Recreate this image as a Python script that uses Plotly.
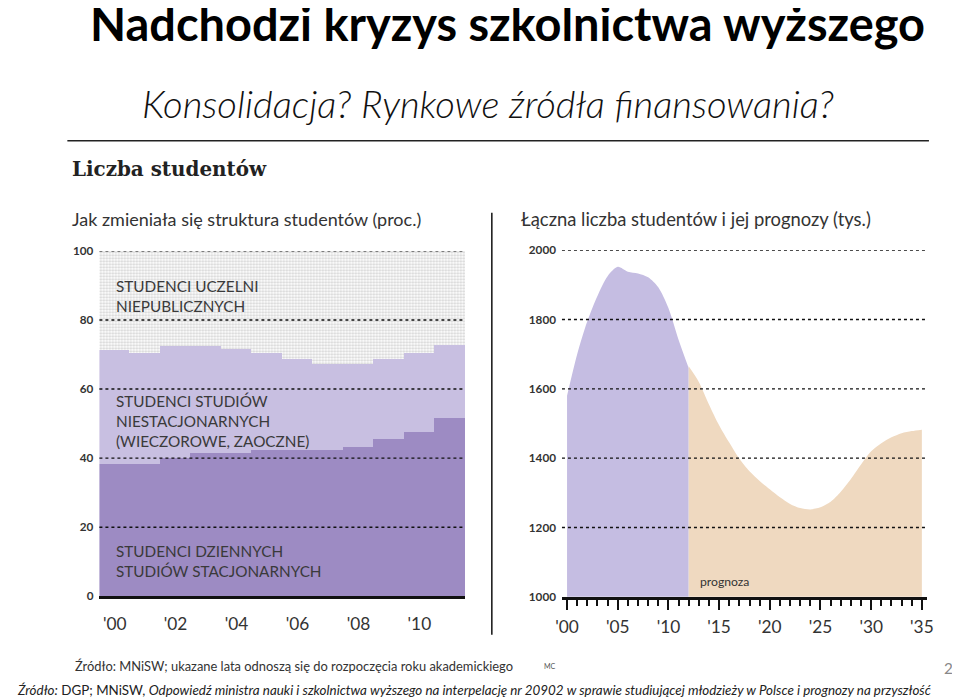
import plotly.graph_objects as go

# ---------------- data ----------------
years_left = [2000, 2001, 2002, 2003, 2004, 2005, 2006, 2007, 2008, 2009, 2010, 2011]
stacjonarne = [38.3, 38.3, 40.0, 41.4, 41.4, 42.5, 42.5, 42.5, 43.2, 45.5, 47.5, 51.5]
niestacjonarne = [33.0, 32.1, 32.6, 31.2, 30.3, 27.9, 26.3, 24.9, 24.2, 23.3, 22.9, 21.2]
niepubliczne = [28.7, 29.6, 27.4, 27.4, 28.3, 29.6, 31.2, 32.6, 32.6, 31.2, 29.6, 27.3]
left_xticks = [2000, 2002, 2004, 2006, 2008, 2010]
left_xlabels = ["'00", "'02", "'04", "'06", "'08", "'10"]
left_yticks = [0, 20, 40, 60, 80, 100]

years_hist = [2000, 2001, 2002, 2003, 2004, 2005, 2006, 2007, 2008, 2009, 2010, 2011, 2012]
students_hist = [1580, 1700, 1795, 1868, 1925, 1952, 1938, 1933, 1922, 1893, 1833, 1742, 1660]
years_fc = [2012, 2013, 2014, 2015, 2016, 2017, 2018, 2019, 2020, 2021, 2022, 2023,
            2024, 2025, 2026, 2027, 2028, 2029, 2030, 2031, 2032, 2033, 2034, 2035]
students_fc = [1665, 1620, 1555, 1495, 1445, 1398, 1362, 1334, 1310, 1287, 1268, 1256,
               1252, 1258, 1274, 1303, 1340, 1382, 1420, 1443, 1460, 1472, 1478, 1482]
right_xticks = [2000, 2005, 2010, 2015, 2020, 2025, 2030, 2035]
right_xlabels = ["'00", "'05", "'10", "'15", "'20", "'25", "'30", "'35"]
right_yticks = [1000, 1200, 1400, 1600, 1800, 2000]

# ---------------- layout helpers ----------------
# measured: the photographed picture shows the figure slightly shrunk and shifted,
# so target picture pixels are mapped back to figure pixels here
W, H = 960, 697
SX, SY = 976 / 960, 713 / 697
def px(x):
    return (x * SX - 16) / W
def py(y):
    return 1 - (y * SY - 16) / H
def fs(s):
    return round(s * 1.02, 1)

FONT = "Lato"
DARK = "#9d8bc3"
LIGHT = "#c8bfe1"
RPURPLE = "#c5bde2"
PEACH = "#efd9c0"
TXT = "#3a3a3a"

fig = go.Figure()

# left chart: stacked step areas as full-width bars
fig.add_trace(go.Bar(x=years_left, y=stacjonarne, width=1, marker=dict(color=DARK, line=dict(width=0)),
                     xaxis="x", yaxis="y", hoverinfo="y"))
fig.add_trace(go.Bar(x=years_left, y=niestacjonarne, width=1, marker=dict(color=LIGHT, line=dict(width=0)),
                     xaxis="x", yaxis="y", hoverinfo="y"))
fig.add_trace(go.Bar(x=years_left, y=niepubliczne, width=1,
                     marker=dict(color="white", line=dict(width=0),
                                 pattern=dict(shape=".", fgcolor="#a8a8a8", bgcolor="white",
                                              size=3, solidity=0.45)),
                     xaxis="x", yaxis="y", hoverinfo="y"))

# right chart: area curves
fig.add_trace(go.Scatter(x=years_hist, y=students_hist, mode="lines", line=dict(width=0, shape="spline", smoothing=0.8),
                         fill="tozeroy", fillcolor=RPURPLE, xaxis="x2", yaxis="y2"))
fig.add_trace(go.Scatter(x=years_fc, y=students_fc, mode="lines", line=dict(width=0, shape="spline", smoothing=0.8),
                         fill="tozeroy", fillcolor=PEACH, xaxis="x2", yaxis="y2"))

shapes = []
# dotted gridlines above data
for v in left_yticks[1:]:
    shapes.append(dict(type="line", xref="x domain", yref="y", x0=0, x1=1, y0=v, y1=v,
                       line=dict(color="#111", width=1.4, dash="dot"), layer="above"))
for v in right_yticks[1:]:
    shapes.append(dict(type="line", xref="x2 domain", yref="y2", x0=0, x1=1, y0=v, y1=v,
                       line=dict(color="#111", width=1.4, dash="dot"), layer="above"))
# separators
shapes.append(dict(type="line", xref="paper", yref="paper", x0=px(491.7), x1=px(491.7),
                   y0=py(212), y1=py(633), line=dict(color="#111", width=1.5)))
shapes.append(dict(type="line", xref="paper", yref="paper", x0=px(68), x1=px(928),
                   y0=py(140), y1=py(140), line=dict(color="#222", width=1.5)))

ann = []
def text(x, y, s, size, color=TXT, family=FONT, anchor="left", weight=None, style=None):
    f = dict(size=fs(size), color=color, family=family)
    if weight is not None:
        f["weight"] = weight
    if style is not None:
        f["style"] = style
    ann.append(dict(x=px(x), y=py(y), xref="paper", yref="paper", text=s, showarrow=False,
                    xanchor=anchor, yanchor="middle", font=f, align="left"))

text(507, 23, "Nadchodzi kryzys szkolnictwa wyższego", 46, color="black", anchor="center", weight="bold")
text(488, 102, "Konsolidacja? Rynkowe źródła finansowania?", 37.5, color="#111", anchor="center", weight=300, style="italic")
text(71, 168, "Liczba studentów", 19.5, color="#222", family="DejaVu Serif", weight="bold")
text(71, 218, "Jak zmieniała się struktura studentów (proc.)", 17.6, color="#333")
text(519, 218, "Łączna liczba studentów i jej prognozy (tys.)", 18.0, color="#333")
text(115, 295, "STUDENCI UCZELNI<br>NIEPUBLICZNYCH", 15, color=TXT)
text(115, 420, "STUDENCI STUDIÓW<br>NIESTACJONARNYCH<br>(WIECZOROWE, ZAOCZNE)", 15, color=TXT)
text(115, 559, "STUDENCI DZIENNYCH<br>STUDIÓW STACJONARNYCH", 15, color=TXT)
text(697, 580, "prognoza", 12, color="#333")
text(74, 664, "Źródło: MNiSW; ukazane lata odnoszą się do rozpoczęcia roku akademickiego", 12.65, color="#333")
text(542, 665, "MC", 7, color="#555")
text(954, 666, "2", 15, color="#888", anchor="right")
text(16, 688, "<i>Źródło:</i> DGP; MNiSW, <i>Odpowiedź ministra nauki i szkolnictwa wyższego na interpelację nr 20902 w sprawie studiującej młodzieży w Polsce i prognozy na przyszłość</i>",
     13.1, color="#222")

fig.update_layout(
    width=W, height=H,
    margin=dict(l=0, r=0, t=0, b=0),
    paper_bgcolor="white", plot_bgcolor="white",
    showlegend=False, barmode="stack", bargap=0,
    font=dict(family=FONT, color=TXT),
    shapes=shapes, annotations=ann,
    xaxis=dict(domain=[px(100), px(465)], anchor="y", range=[1999.5, 2011.5],
               tickvals=left_xticks, ticktext=left_xlabels, showgrid=False, zeroline=False,
               showline=True, linecolor="#111", linewidth=3, ticks="", ticklabelstandoff=10,
               tickfont=dict(size=fs(17), color="#333", family=FONT), layer="above traces"),
    yaxis=dict(domain=[py(594.5), py(250)], anchor="x", range=[0, 100],
               tickvals=left_yticks, showgrid=False, zeroline=False, showline=False,
               ticks="", ticklabelstandoff=5, tickfont=dict(size=fs(11.5), color="#333", family=FONT, weight="bold")),
    xaxis2=dict(domain=[px(561.7), px(926)], anchor="y2", range=[1999.5, 2035.5],
                tickvals=right_xticks, ticktext=right_xlabels, showgrid=False, zeroline=False,
                showline=True, linecolor="#111", linewidth=3, ticks="outside", ticklen=10,
                tickwidth=2, tickcolor="#111",
                minor=dict(dtick=1, tick0=2000, ticks="outside", ticklen=6, tickwidth=1.5, tickcolor="#111", showgrid=False),
                ticklabelstandoff=2, tickfont=dict(size=fs(17), color="#333", family=FONT), layer="above traces"),
    yaxis2=dict(domain=[py(595), py(249.3)], anchor="x2", range=[1000, 2000],
                tickvals=right_yticks, showgrid=False, zeroline=False, showline=False,
                ticks="", ticklabelstandoff=5, tickfont=dict(size=fs(11.5), color="#333", family=FONT, weight="bold")),
)

fig.write_html("out.html", config=dict(displayModeBar=False))
